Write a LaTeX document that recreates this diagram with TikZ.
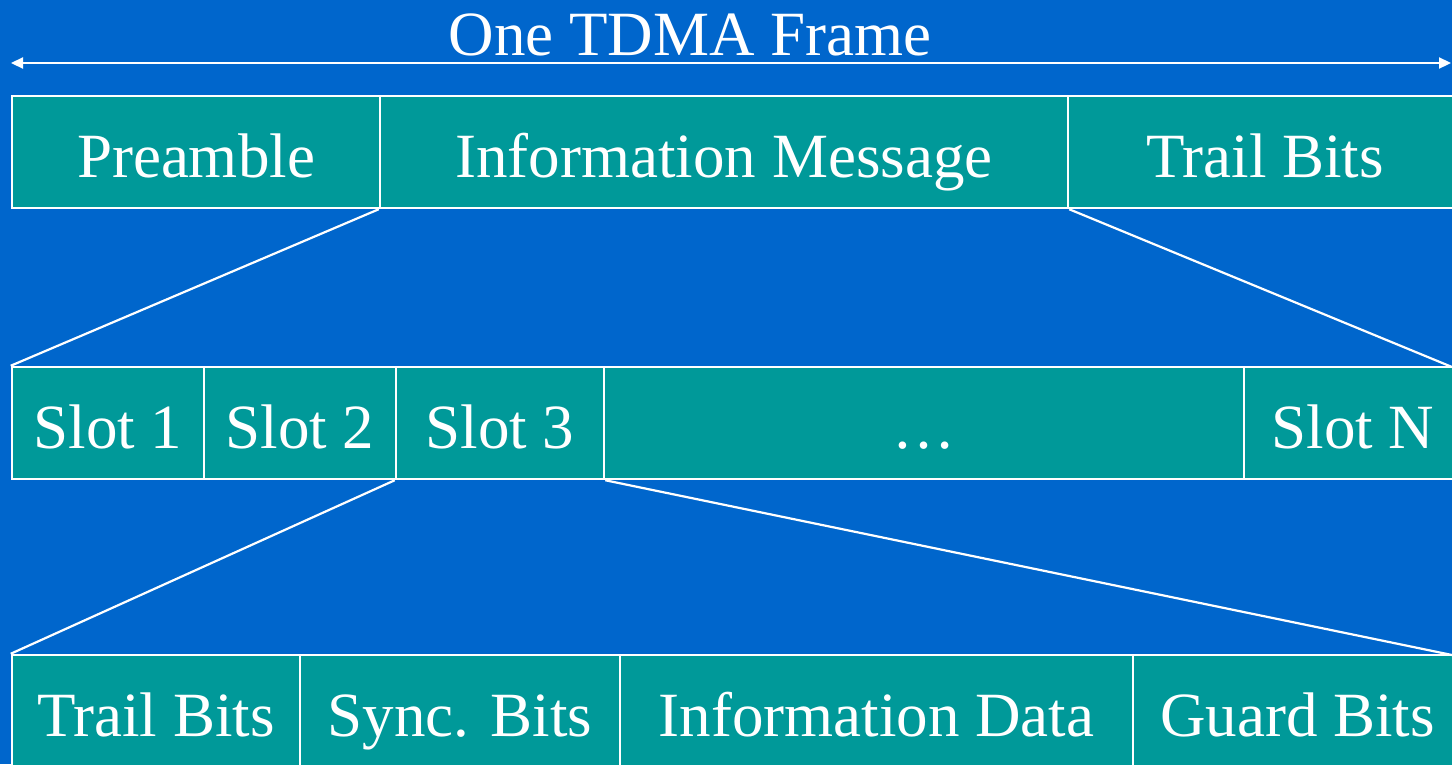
\documentclass[tikz,border=0pt]{standalone}
\usepackage{fontspec}
\setmainfont{Liberation Serif}
\usetikzlibrary{arrows.meta}
\definecolor{bgblue}{HTML}{0066CC}
\definecolor{cellteal}{HTML}{009999}
\begin{document}
\begin{tikzpicture}[x=1pt,y=-1pt,
  cell/.style={draw=white, line width=2.5pt, fill=cellteal, text=white,
    inner sep=0pt, minimum height=112pt, text height=50pt, text depth=0pt,
    font=\fontsize{63}{70}\selectfont},
  link/.style={draw=white, line width=2.2pt},
  span/.style={draw=white, line width=2.2pt, {Triangle[length=12pt,width=11pt]}-{Triangle[length=12pt,width=11pt]}}]
  % background and page size
  \fill[bgblue] (0,0) rectangle (1452,764);
  \useasboundingbox (0,0) rectangle (1452,764);

  % frame title and extent arrow
  \node[text=white, font=\fontsize{63}{70}\selectfont, anchor=base] (title) at (690,55) {One TDMA Frame};
  \coordinate (fl) at (11,63);
  \coordinate (fr) at (1451,63);
  \draw[span] (fl) -- (fr);

  % frame level
  \node[cell, minimum width=368pt] (pre)  at (196,152) {Preamble};
  \node[cell, minimum width=688pt] (info) at (724,152) {Information Message};
  \node[cell, minimum width=394pt] (tb1)  at (1265,152) {Trail Bits};

  % slot level
  \node[cell, minimum width=192pt] (s1) at (108,423) {Slot 1};
  \node[cell, minimum width=192pt] (s2) at (300,423) {Slot 2};
  \node[cell, minimum width=208pt] (s3) at (500,423) {Slot 3};
  \node[cell, minimum width=640pt] (sd) at (924,423) {…};
  \node[cell, minimum width=218pt] (sN) at (1353,423) {Slot N};

  % slot contents
  \node[cell, minimum width=288pt] (tb2)   at (156,711) {Trail Bits};
  \node[cell, minimum width=320pt] (sync)  at (460,711) {Sync. Bits};
  \node[cell, minimum width=513pt] (idata) at (876.5,711) {Information Data};
  \node[cell, minimum width=329pt] (guard) at (1297.5,711) {Guard Bits};

  % expansion lines
  \coordinate (r2) at (1452,367);
  \coordinate (r3) at (1452,655);
  \draw[link] (info.south west) -- (s1.north west);
  \draw[link] (info.south east) -- (r2);
  \draw[link] (s3.south west) -- (tb2.north west);
  \draw[link] (s3.south east) -- (r3);
\end{tikzpicture}
\end{document}
